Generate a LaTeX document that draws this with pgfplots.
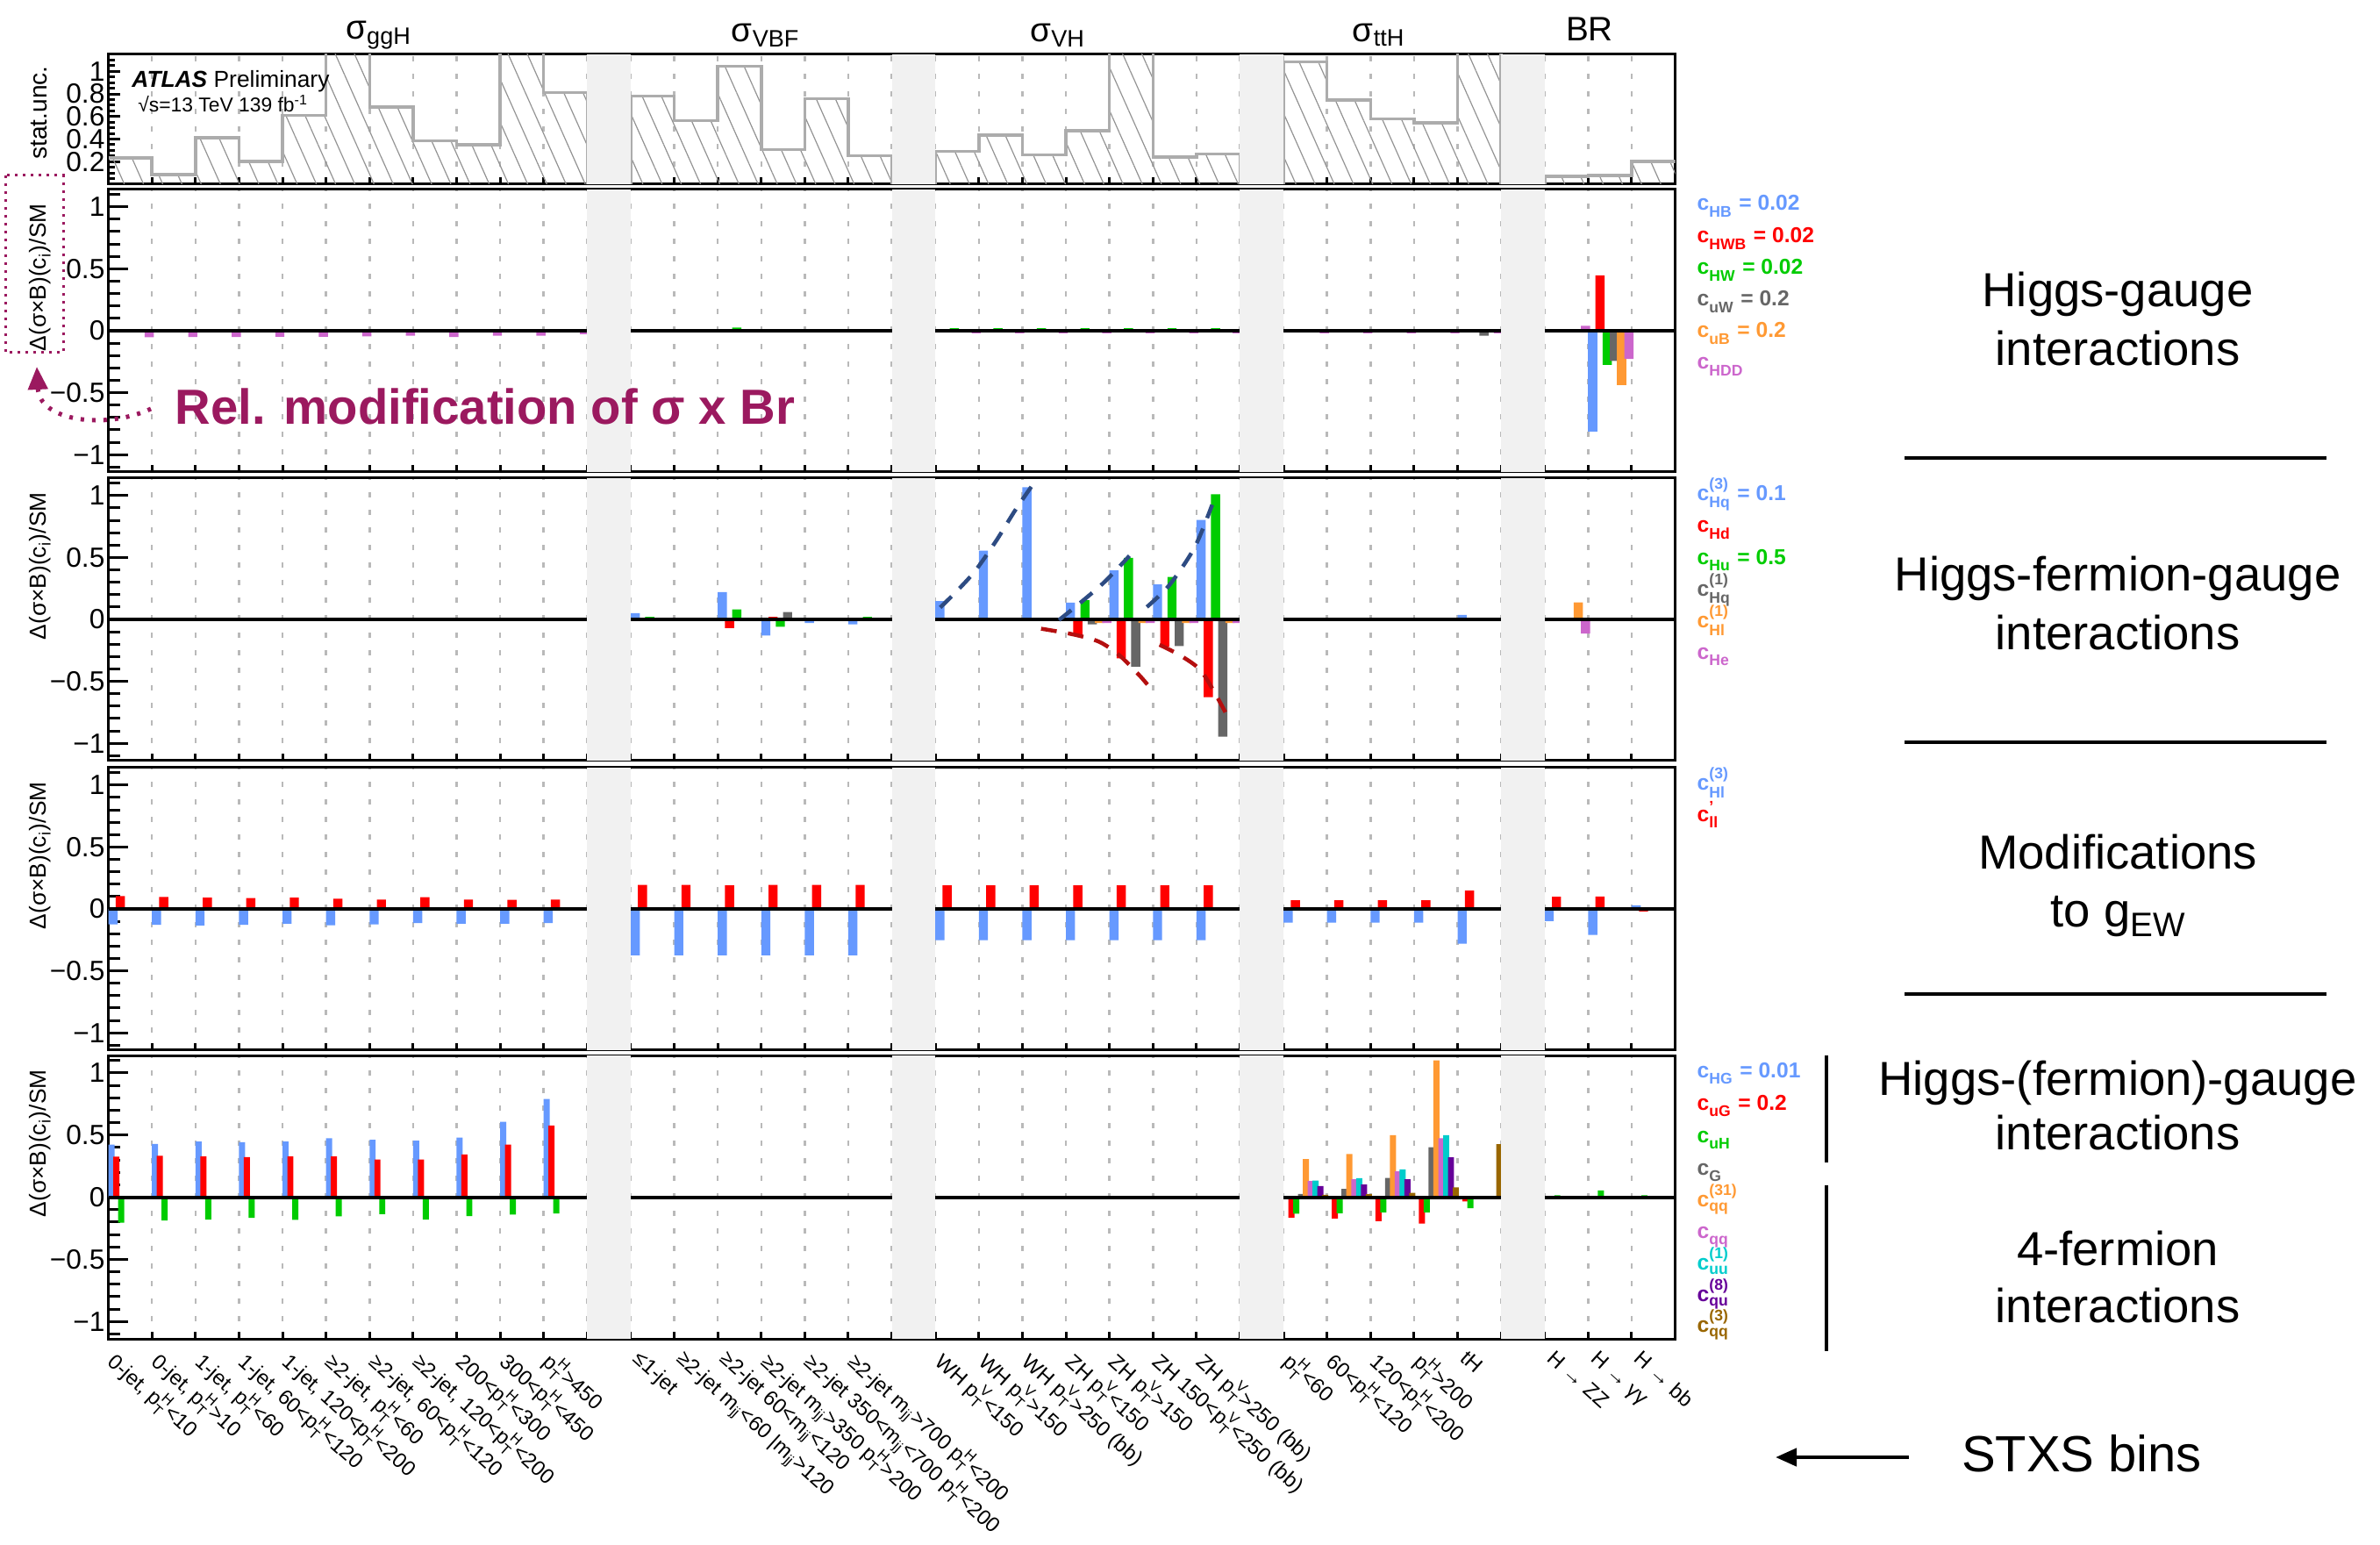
\documentclass[border=0pt]{standalone}
\usepackage{pgfplots}
\pgfplotsset{compat=1.18}
\usepackage{amsmath}
\usepackage{fontspec}
\setmainfont{Liberation Sans}
\setsansfont{Liberation Sans}
\usetikzlibrary{patterns.meta,arrows.meta}

\definecolor{cB}{RGB}{102,153,255}
\definecolor{cR}{RGB}{255,0,0}
\definecolor{cG}{RGB}{0,204,0}
\definecolor{cK}{RGB}{102,102,102}
\definecolor{cO}{RGB}{255,153,51}
\definecolor{cP}{RGB}{204,102,204}
\definecolor{cC}{RGB}{0,204,204}
\definecolor{cV}{RGB}{102,0,153}
\definecolor{cN}{RGB}{153,102,0}
\definecolor{cM}{RGB}{155,25,95}
\definecolor{band}{RGB}{241,241,241}
\definecolor{navy}{RGB}{45,75,130}
\definecolor{dred}{RGB}{180,15,15}

\newcommand\pT[1]{p$^{\text{#1}}_{\text{T}}$}
\newcommand\mjj{m$_{\text{jj}}$}
\newcommand\cc[2]{c$^{\text{#2}}_{\text{#1}}$}

\newcommand\bands[2]{%
 \addplot[fill=band,draw=none] coordinates {(11,#1) (12,#1) (12,#2) (11,#2)} --cycle;
 \addplot[fill=band,draw=none] coordinates {(18,#1) (19,#1) (19,#2) (18,#2)} --cycle;
 \addplot[fill=band,draw=none] coordinates {(26,#1) (27,#1) (27,#2) (26,#2)} --cycle;
 \addplot[fill=band,draw=none] coordinates {(32,#1) (33,#1) (33,#2) (32,#2)} --cycle;}

\pgfplotsset{
 base/.style={scale only axis, width=178.6mm, anchor=south west,
   xmin=0, xmax=36, xtick={0,...,36}, xticklabels={},
   xmajorgrids, major grid style={gray!55, line width=0.25mm, dash pattern=on 0.6mm off 1.4mm},
   tick align=inside, xtick pos=bottom, ytick pos=left,
   axis line style={line width=0.3mm},
   every tick/.style={black, line width=0.3mm},
   xtick style={/pgfplots/major tick length=0.8mm},
   yticklabel style={font=\fontsize{9}{9}\selectfont, inner sep=1pt},
   clip=true},
 dpanel/.style={base, height=32.2mm, ymin=-1.14, ymax=1.14,
   ytick={-1,-0.5,0,0.5,1}, yticklabels={−1,−0.5,0,0.5,1},
   minor ytick={-1.1,-0.9,-0.8,-0.7,-0.6,-0.4,-0.3,-0.2,-0.1,0.1,0.2,0.3,0.4,0.6,0.7,0.8,0.9,1.1},
   major tick length=2.2mm, minor tick length=1.3mm},
 zl/.style={black, line width=0.4mm},
 b6/.style={ybar, bar width=0.21, draw=none, bar shift=#1},
 b9/.style={ybar, bar width=0.14, draw=none, bar shift=#1},
}

\begin{document}
\begin{tikzpicture}
\path[use as bounding box] (0,0) rectangle (271.3mm,176mm);

% ---------- panel 0 : stat. unc.
\begin{axis}[base, at={(12.36mm,155.0mm)}, height=14.8mm, ymin=0, ymax=1.15,
  ytick={0.2,0.4,0.6,0.8,1}, yticklabels={0.2,0.4,0.6,0.8,1},
  minor ytick={0.05,0.1,0.15,0.25,0.3,0.35,0.45,0.5,0.55,0.65,0.7,0.75,0.85,0.9,0.95,1.05,1.1},
  major tick length=1.3mm, minor tick length=0.7mm]
\addplot[ybar interval, draw=none, pattern={Lines[angle=-66,distance=2mm,line width=0.12mm]}, pattern color=gray!85]
 coordinates {(0,0.234) (1,0.086) (2,0.41) (3,0.2) (4,0.61) (5,1.3) (6,0.683) (7,0.385) (8,0.35) (9,1.3) (10,0.81) (11,0)
 (12,0.78) (13,0.564) (14,1.044) (15,0.306) (16,0.758) (17,0.252) (18,0)
 (19,0.293) (20,0.436) (21,0.26) (22,0.473) (23,1.3) (24,0.239) (25,0.268) (26,0)
 (27,1.083) (28,0.745) (29,0.577) (30,0.545) (31,1.3) (32,0) (33,0.07) (34,0.078) (35,0.2) (36,0.2)};
\addplot[const plot, draw=gray!65, line width=0.35mm]
 coordinates {(0,0.234) (1,0.086) (2,0.41) (3,0.2) (4,0.61) (5,1.3) (6,0.683) (7,0.385) (8,0.35) (9,1.3) (10,0.81) (11,0)
 (12,0.78) (13,0.564) (14,1.044) (15,0.306) (16,0.758) (17,0.252) (18,0)
 (19,0.293) (20,0.436) (21,0.26) (22,0.473) (23,1.3) (24,0.239) (25,0.268) (26,0)
 (27,1.083) (28,0.745) (29,0.577) (30,0.545) (31,1.3) (32,0) (33,0.07) (34,0.078) (35,0.2) (36,0.2)};
\bands{0}{1.15}
\end{axis}

% ---------- panel 1 : Higgs-gauge
\begin{axis}[dpanel, at={(12.36mm,122.2mm)}]
\addplot[b6=0.105, fill=cB] coordinates {(34,-0.817)};
\addplot[b6=0.272, fill=cR] coordinates {(33,0.01) (34,0.447)};
\addplot[b6=0.438, fill=cG] coordinates {(12,0.01) (13,0.005) (14,0.025) (15,0.01) (16,0.005) (17,0.005)
  (19,0.02) (20,0.02) (21,0.02) (22,0.02) (23,0.02) (24,0.02) (25,0.02) (33,-0.01) (34,-0.275)};
\addplot[b6=0.605, fill=cK] coordinates {(31,-0.04) (34,-0.243)};
\addplot[b6=0.772, fill=cO] coordinates {(34,-0.442)};
\addplot[b6=0.938, fill=cP] coordinates {(0,-0.052) (1,-0.05) (2,-0.05) (3,-0.048) (4,-0.048) (5,-0.045) (6,-0.04) (7,-0.05) (8,-0.04) (9,-0.04) (10,-0.028)
  (12,-0.005) (13,-0.01) (14,-0.01) (15,-0.01) (16,-0.01) (17,-0.005)
  (19,-0.02) (20,-0.02) (21,-0.02) (22,-0.02) (23,-0.02) (24,-0.02) (25,-0.02)
  (27,-0.02) (28,-0.02) (29,-0.02) (30,-0.02) (31,-0.02) (33,0.04) (34,-0.228)};
\addplot[zl] coordinates {(0,0) (36,0)};
\bands{-1.14}{1.14}
\end{axis}

% ---------- panel 2 : Higgs-fermion-gauge
\begin{axis}[dpanel, at={(12.36mm,89.3mm)}]
\addplot[b6=0.105, fill=cB] coordinates {(12,0.05) (14,0.22) (15,-0.13) (16,-0.03) (17,-0.04)
  (19,0.148) (20,0.555) (21,1.066) (22,0.136) (23,0.395) (24,0.282) (25,0.802) (31,0.036)};
\addplot[b6=0.272, fill=cR] coordinates {(12,-0.01) (14,-0.07) (15,0.02) (22,-0.122) (23,-0.315) (24,-0.221) (25,-0.628)};
\addplot[b6=0.438, fill=cG] coordinates {(12,0.02) (14,0.08) (15,-0.06) (17,0.02) (22,0.155) (23,0.496) (24,0.343) (25,1.01)};
\addplot[b6=0.605, fill=cK] coordinates {(15,0.06) (22,-0.04) (23,-0.381) (24,-0.216) (25,-0.946)};
\addplot[b6=0.772, fill=cO] coordinates {(22,-0.03) (23,-0.03) (24,-0.03) (25,-0.03) (33,0.137)};
\addplot[b6=0.938, fill=cP] coordinates {(22,-0.03) (23,-0.03) (24,-0.03) (25,-0.03) (33,-0.115)};
\addplot[zl] coordinates {(0,0) (36,0)};
\addplot[navy, line width=0.45mm, dash pattern=on 1.8mm off 1.3mm, smooth] coordinates {(18.65,-0.052) (19.23,0.136) (19.87,0.372) (20.39,0.63) (20.85,0.889) (21.35,1.143)};
\addplot[navy, line width=0.45mm, dash pattern=on 1.8mm off 1.3mm, smooth] coordinates {(21.84,-0.005) (22.30,0.125) (22.88,0.30) (23.46,0.513)};
\addplot[navy, line width=0.45mm, dash pattern=on 1.8mm off 1.3mm, smooth] coordinates {(23.86,0.10) (24.38,0.278) (24.96,0.583) (25.36,0.925)};
\addplot[dred, line width=0.45mm, dash pattern=on 1.8mm off 1.3mm, smooth] coordinates {(21.43,-0.075) (22.18,-0.122) (22.76,-0.18) (23.22,-0.287) (23.69,-0.452) (23.92,-0.546)};
\addplot[dred, line width=0.45mm, dash pattern=on 1.8mm off 1.3mm, smooth] coordinates {(24.15,-0.205) (24.61,-0.287) (25.08,-0.405) (25.42,-0.593) (25.71,-0.78)};
\bands{-1.14}{1.14}
\end{axis}

% ---------- panel 3 : gEW
\begin{axis}[dpanel, at={(12.36mm,56.3mm)}]
\addplot[b6=0.105, fill=cB] coordinates {(0,-0.125) (1,-0.129) (2,-0.134) (3,-0.129) (4,-0.12) (5,-0.132) (6,-0.125) (7,-0.115) (8,-0.12) (9,-0.12) (10,-0.115)
  (12,-0.374) (13,-0.374) (14,-0.374) (15,-0.374) (16,-0.374) (17,-0.374)
  (19,-0.252) (20,-0.252) (21,-0.252) (22,-0.252) (23,-0.252) (24,-0.252) (25,-0.252)
  (27,-0.11) (28,-0.11) (29,-0.11) (30,-0.11) (31,-0.28) (33,-0.098) (34,-0.21) (35,0.03)};
\addplot[b6=0.272, fill=cR] coordinates {(0,0.104) (1,0.096) (2,0.092) (3,0.087) (4,0.092) (5,0.082) (6,0.075) (7,0.094) (8,0.075) (9,0.073) (10,0.075)
  (12,0.193) (13,0.193) (14,0.19) (15,0.193) (16,0.193) (17,0.193)
  (19,0.19) (20,0.19) (21,0.19) (22,0.19) (23,0.19) (24,0.19) (25,0.19)
  (27,0.07) (28,0.07) (29,0.07) (30,0.07) (31,0.147) (33,0.098) (34,0.1) (35,-0.02)};
\addplot[zl] coordinates {(0,0) (36,0)};
\bands{-1.14}{1.14}
\end{axis}

% ---------- panel 4 : Higgs-(fermion)-gauge and 4-fermion
\begin{axis}[dpanel, at={(12.36mm,23.4mm)}, height=32.3mm,
  xticklabels={{0-jet, \pT{H}<10},{0-jet, \pT{H}>10},{1-jet, \pT{H}<60},{1-jet, 60<\pT{H}<120},{1-jet, 120<\pT{H}<200},
  {≥2-jet, \pT{H}<60},{≥2-jet, 60<\pT{H}<120},{≥2-jet, 120<\pT{H}<200},{200<\pT{H}<300},{300<\pT{H}<450},{\pT{H}>450},{},
  {≤1-jet},{≥2-jet \mjj<60 |\mjj>120},{≥2-jet 60<\mjj<120},{≥2-jet \mjj>350 \pT{H}>200},{≥2-jet 350<\mjj<700 \pT{H}<200},{≥2-jet \mjj>700 \pT{H}<200},{},
  {WH \pT{V}<150},{WH \pT{V}>150},{WH \pT{V}>250 (bb)},{ZH \pT{V}<150},{ZH \pT{V}>150},{ZH 150<\pT{V}<250 (bb)},{ZH \pT{V}>250 (bb)},{},
  {\pT{H}<60},{60<\pT{H}<120},{120<\pT{H}<200},{\pT{H}>200},{tH},{},
  {H → ZZ},{H → γγ},{H → bb},{}},
  xticklabel style={xshift=1.3mm, yshift=-1.1mm, rotate=-42, anchor=north west, inner sep=0pt, font=\fontsize{6.8}{7}\selectfont}]
\addplot[b9=0.07, fill=cB] coordinates {(0,0.423) (1,0.428) (2,0.447) (3,0.442) (4,0.447) (5,0.473) (6,0.461) (7,0.454) (8,0.48) (9,0.607) (10,0.79)
  (27,0.005) (28,0.005) (33,-0.01) (34,-0.01) (35,-0.01)};
\addplot[b9=0.181, fill=cR] coordinates {(0,0.325) (1,0.332) (2,0.327) (3,0.322) (4,0.327) (5,0.327) (6,0.303) (7,0.303) (8,0.343) (9,0.423) (10,0.576)
  (27,-0.165) (28,-0.172) (29,-0.193) (30,-0.212) (31,-0.035) (33,-0.01) (34,-0.01) (35,-0.01)};
\addplot[b9=0.292, fill=cG] coordinates {(0,-0.205) (1,-0.188) (2,-0.181) (3,-0.167) (4,-0.183) (5,-0.155) (6,-0.136) (7,-0.181) (8,-0.153) (9,-0.141) (10,-0.132)
  (23,0.01) (24,0.01) (25,0.01) (27,-0.134) (28,-0.129) (29,-0.122) (30,-0.122) (31,-0.089) (33,0.015) (34,0.054) (35,0.015)};
\addplot[b9=0.403, fill=cK] coordinates {(27,0.026) (28,0.066) (29,0.155) (30,0.402)};
\addplot[b9=0.514, fill=cO] coordinates {(27,0.306) (28,0.346) (29,0.499) (30,1.10)};
\addplot[b9=0.626, fill=cP] coordinates {(27,0.129) (28,0.143) (29,0.207) (30,0.473)};
\addplot[b9=0.737, fill=cC] coordinates {(27,0.134) (28,0.153) (29,0.223) (30,0.499)};
\addplot[b9=0.848, fill=cV] coordinates {(27,0.089) (28,0.101) (29,0.143) (30,0.32)};
\addplot[b9=0.959, fill=cN] coordinates {(27,0.019) (28,0.024) (29,0.035) (30,0.078) (31,0.426)};
\addplot[zl] coordinates {(0,0) (36,0)};
\bands{-1.14}{1.14}
\end{axis}

% ---------- annotations in pixel coordinates of the reference
\begin{scope}[x=0.1mm,y=-0.1mm,shift={(0,176mm)}]
 % column titles
 \node[font=\fontsize{11}{11}\selectfont] at (432,40) {σ$_{\text{ggH}}$};
 \node[font=\fontsize{11}{11}\selectfont] at (873,40) {σ$_{\text{VBF}}$};
 \node[font=\fontsize{11}{11}\selectfont] at (1206,40) {σ$_{\text{VH}}$};
 \node[font=\fontsize{11}{11}\selectfont] at (1572,40) {σ$_{\text{ttH}}$};
 \node[font=\fontsize{11}{11}\selectfont] at (1812,33) {BR};
 % ATLAS
 \node[anchor=base west, font=\fontsize{7.5}{8}\selectfont] at (138,100) {\textbf{\textit{ATLAS}} Preliminary};
 \node[anchor=base west, font=\fontsize{6.5}{7}\selectfont] at (145,128) {√s=13 TeV 139 fb$^{\text{-1}}$};
 % y labels
 \node[rotate=90, anchor=east, font=\fontsize{8}{8}\selectfont] at (45,63) {stat.unc.};
 \node[rotate=90, anchor=east, font=\fontsize{7.5}{8}\selectfont] at (46,220) {Δ(σ×B)(c$_{\text{i}}$)/SM};
 \node[rotate=90, anchor=east, font=\fontsize{7.5}{8}\selectfont] at (46,549) {Δ(σ×B)(c$_{\text{i}}$)/SM};
 \node[rotate=90, anchor=east, font=\fontsize{7.5}{8}\selectfont] at (46,879) {Δ(σ×B)(c$_{\text{i}}$)/SM};
 \node[rotate=90, anchor=east, font=\fontsize{7.5}{8}\selectfont] at (46,1207) {Δ(σ×B)(c$_{\text{i}}$)/SM};
 % relative modification annotation
 \draw[cM, line width=0.3mm, dash pattern=on 0.3mm off 0.6mm] (6,200) rectangle (72,402);
 \node[cM, font=\fontsize{16}{16}\bfseries] at (553,463) {Rel. modification of σ x Br};
 \draw[cM, line width=0.5mm, dash pattern=on 0.4mm off 0.9mm, -{Triangle[length=2.6mm,width=2.2mm]}]
   (172,466) .. controls (120,490) and (45,480) .. (42,418);
 % legends
 \begin{scope}[every node/.style={anchor=base west, inner sep=0pt, font=\fontsize{7}{7}\bfseries}]
  \node[cB] at (1934,240) {\cc{HB}{} = 0.02};
  \node[cR] at (1934,277) {\cc{HWB}{} = 0.02};
  \node[cG] at (1934,313) {\cc{HW}{} = 0.02};
  \node[cK] at (1934,349) {\cc{uW}{} = 0.2};
  \node[cO] at (1934,385) {\cc{uB}{} = 0.2};
  \node[cP] at (1934,421) {\cc{HDD}{}};
  \node[cB] at (1934,570) {\cc{Hq}{(3)} = 0.1};
  \node[cR] at (1934,607) {\cc{Hd}{}};
  \node[cG] at (1934,643) {\cc{Hu}{} = 0.5};
  \node[cK] at (1934,679) {\cc{Hq}{(1)}};
  \node[cO] at (1934,715) {\cc{Hl}{(1)}};
  \node[cP] at (1934,751) {\cc{He}{}};
  \node[cB] at (1934,900) {\cc{Hl}{(3)}};
  \node[cR] at (1934,936) {\cc{ll}{'}};
  \node[cB] at (1934,1228) {\cc{HG}{} = 0.01};
  \node[cR] at (1934,1265) {\cc{uG}{} = 0.2};
  \node[cG] at (1934,1302) {\cc{uH}{}};
  \node[cK] at (1934,1339) {\cc{G}{}};
  \node[cO] at (1934,1375) {\cc{qq}{(31)}};
  \node[cP] at (1934,1411) {\cc{qq}{}};
  \node[cC] at (1934,1447) {\cc{uu}{(1)}};
  \node[cV] at (1934,1483) {\cc{qu}{(8)}};
  \node[cN] at (1934,1518) {\cc{qq}{(3)}};
 \end{scope}
 % right hand descriptions
 \begin{scope}[every node/.style={anchor=base, font=\fontsize{15.5}{16}\selectfont}]
  \node at (2414,350) {Higgs-gauge};
  \node at (2414,417) {interactions};
  \node at (2414,673) {Higgs-fermion-gauge};
  \node at (2414,740) {interactions};
  \node at (2414,990) {Modifications};
  \node at (2414,1056) {to g\raisebox{-0.4ex}{\fontsize{11}{11}\selectfont EW}};
  \node at (2414,1248) {Higgs-(fermion)-gauge};
  \node at (2414,1310) {interactions};
  \node at (2414,1442) {4-fermion};
  \node at (2414,1507) {interactions};
  \node[font=\fontsize{16.5}{17}\selectfont] at (2373,1677) {STXS bins};
 \end{scope}
 \draw[line width=0.4mm] (2171,522) -- (2652,522);
 \draw[line width=0.4mm] (2171,846) -- (2652,846);
 \draw[line width=0.4mm] (2171,1133) -- (2652,1133);
 \draw[line width=0.4mm] (2082,1203) -- (2082,1325);
 \draw[line width=0.4mm] (2082,1351) -- (2082,1540);
 \draw[line width=0.45mm, -{Triangle[length=2.4mm,width=2mm]}] (2176,1661) -- (2024,1661);
\end{scope}
\end{tikzpicture}
\end{document}
